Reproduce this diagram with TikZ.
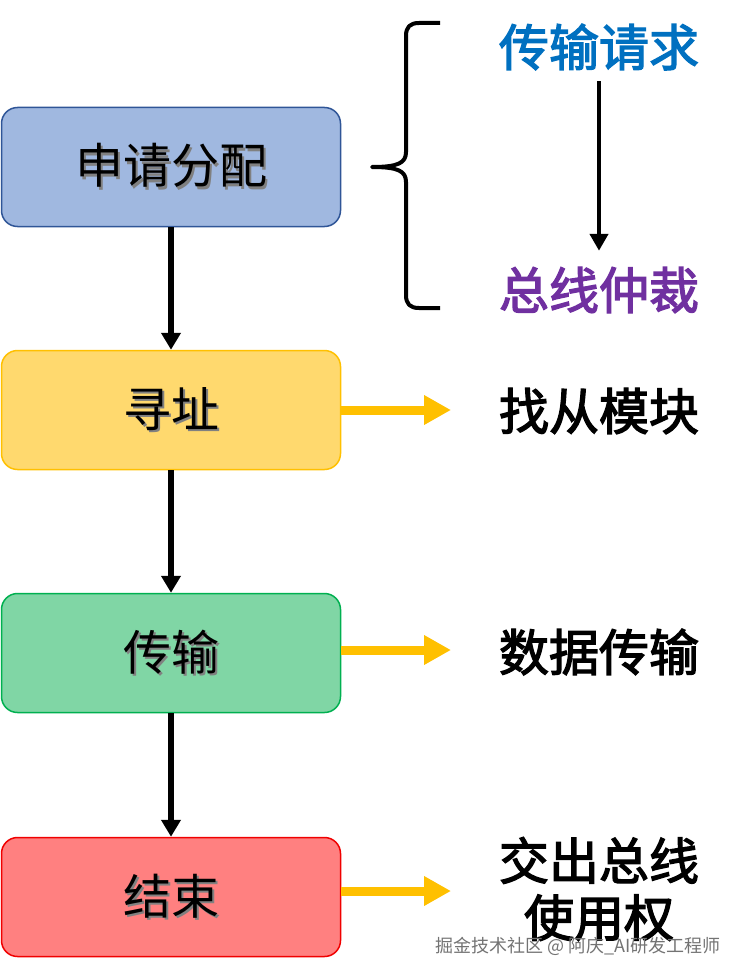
\documentclass[tikz,border=0pt]{standalone}
\usepackage{fontspec}
\setmainfont{Noto Sans CJK SC}
\newfontfamily\medfont[FakeBold=2.6]{Noto Sans CJK SC}
\usetikzlibrary{arrows.meta}
\definecolor{bluefill}{RGB}{160,184,224}
\definecolor{blueedge}{RGB}{47,85,151}
\definecolor{yelfill}{RGB}{255,217,110}
\definecolor{yeledge}{RGB}{255,192,0}
\definecolor{grnfill}{RGB}{128,214,165}
\definecolor{grnedge}{RGB}{0,176,80}
\definecolor{redfill}{RGB}{255,128,128}
\definecolor{rededge}{RGB}{240,0,0}
\definecolor{reqblue}{RGB}{0,112,192}
\definecolor{arbpurple}{RGB}{112,48,160}
\definecolor{arrowyel}{RGB}{255,192,0}
\newcommand\shadowed[1]{\makebox[0pt][l]{\hspace{2.5pt}\raisebox{-2.5pt}{\textcolor{black!50}{#1}}}#1}
\begin{document}
\begin{tikzpicture}[x=1pt,y=-1pt,
  box/.style={rounded corners=16pt, minimum width=339pt, minimum height=119pt, line width=1.5pt, inner sep=0pt, font=\fontsize{48}{52}\selectfont},
  lbl/.style={inner sep=0pt, font=\fontsize{50}{57}\selectfont\medfont, align=center},
  flow/.style={line width=5.5pt, -{Triangle[length=17pt,width=19pt]}},
  side/.style={line width=9pt, arrowyel, -{Triangle[length=27pt,width=28pt]}},
]
\useasboundingbox (0,0) rectangle (748,979);

% boxes
\node[box, fill=bluefill, draw=blueedge] (b1) at (171,167) {\shadowed{申请分配}};
\node[box, fill=yelfill, draw=yeledge] (b2) at (171,410) {\shadowed{寻址}};
\node[box, fill=grnfill, draw=grnedge] (b3) at (171,653) {\shadowed{传输}};
\node[box, fill=redfill, draw=rededge] (b4) at (171,897) {\shadowed{结束}};

\draw[flow] (b1) -- (b2);
\draw[flow] (b2) -- (b3);
\draw[flow] (b3) -- (b4);

% right labels
\node[lbl, text=reqblue] (r1) at (599,47) {传输请求};
\node[lbl, text=arbpurple] (r2) at (599,290) {总线仲裁};
\node[lbl] (l2) at (599,411) {找从模块};
\node[lbl] (l3) at (599,652) {数据传输};
\node[lbl] (l4) at (599,889) {交出总线\\使用权};

\draw[line width=4.5pt, -{Triangle[length=17pt,width=18pt]}, shorten <=11pt, shorten >=16pt] (r1) -- (r2);

% side arrows
\coordinate (a2) at (451,410);
\coordinate (a3) at (451,650);
\coordinate (a4) at (451,891);
\draw[side] (b2.east |- a2) -- (a2);
\draw[side] (b3.east |- a3) -- (a3);
\draw[side] (b4.east |- a4) -- (a4);

% brace
\draw[line width=4pt, line join=round, line cap=butt]
  (440,23) -- (419,23) .. controls (410,23) and (406,27) .. (406,36)
  -- (406,152) .. controls (406,163) and (398,167) .. (372,167)
  .. controls (398,167) and (406,171) .. (406,182)
  -- (406,295) .. controls (406,304) and (410,308) .. (419,308) -- (440,308);

% watermark
\node[inner sep=0pt, text=black!55, font=\fontsize{18}{20}\selectfont] (wm) at (578,946) {掘金技术社区 @ 阿庆\_AI研发工程师};
\end{tikzpicture}
\end{document}
